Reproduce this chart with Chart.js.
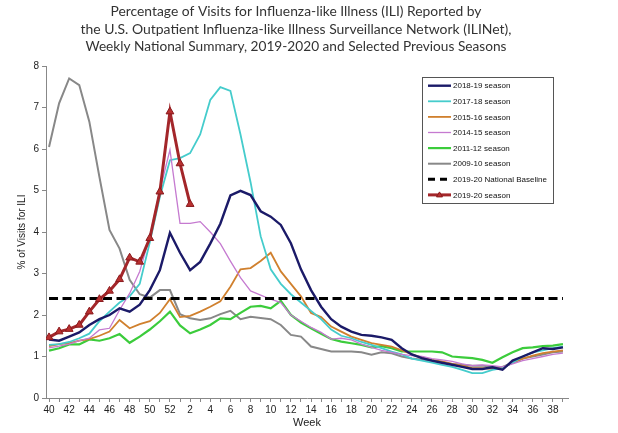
<!DOCTYPE html>
<html>
<head>
<meta charset="utf-8">
<script src="https://cdn.jsdelivr.net/npm/chart.js@4.4.1/dist/chart.umd.min.js"></script>
<style>
html,body{margin:0;padding:0;background:#fff;}
#c{display:block;}
</style>
</head>
<body>
<canvas id="c" width="618" height="433"></canvas>
<script>
// Weeks of the flu season (week 40 through week 39)
const weeks = [40,41,42,43,44,45,46,47,48,49,50,51,52,1,2,3,4,5,6,7,8,9,10,11,12,13,14,15,16,17,18,19,20,21,22,23,24,25,26,27,28,29,30,31,32,33,34,35,36,37,38,39];

const season1819 = [1.41,1.38,1.48,1.58,1.76,1.9,2.0,2.16,2.08,2.25,2.6,3.08,3.98,3.5,3.08,3.28,3.72,4.2,4.88,4.99,4.89,4.5,4.37,4.17,3.73,3.1,2.6,2.2,1.9,1.72,1.6,1.52,1.5,1.46,1.4,1.2,1.05,0.96,0.9,0.85,0.8,0.75,0.7,0.7,0.74,0.68,0.9,1.0,1.1,1.2,1.18,1.22];
const season1718 = [1.28,1.3,1.35,1.44,1.55,1.85,2.08,2.3,2.45,2.75,3.75,4.85,5.73,5.78,5.9,6.35,7.18,7.49,7.4,6.35,5.2,3.9,3.1,2.75,2.5,2.3,2.1,1.9,1.65,1.5,1.44,1.35,1.28,1.2,1.12,1.05,0.95,0.9,0.85,0.8,0.75,0.68,0.6,0.6,0.68,0.72,0.85,1.0,1.1,1.15,1.2,1.24];
const season1516 = [1.25,1.3,1.32,1.38,1.42,1.5,1.6,1.88,1.68,1.78,1.85,2.05,2.38,1.95,1.98,2.08,2.2,2.33,2.68,3.1,3.13,3.3,3.5,3.05,2.75,2.45,2.05,1.95,1.72,1.6,1.48,1.4,1.32,1.28,1.24,1.15,1.05,0.98,0.92,0.88,0.82,0.78,0.72,0.72,0.7,0.72,0.85,0.95,1.02,1.08,1.12,1.15];
const season1415 = [1.21,1.25,1.3,1.38,1.44,1.64,1.68,2.12,2.52,3.05,3.9,5.0,5.98,4.21,4.21,4.25,4.0,3.72,3.3,2.9,2.58,2.48,2.38,2.3,2.0,1.85,1.7,1.58,1.42,1.44,1.4,1.3,1.22,1.15,1.1,1.05,1.02,1.0,0.95,0.92,0.88,0.82,0.78,0.8,0.78,0.75,0.82,0.9,0.95,1.0,1.05,1.08];
const season1112 = [1.14,1.2,1.29,1.29,1.41,1.38,1.44,1.54,1.33,1.48,1.65,1.85,2.08,1.75,1.56,1.65,1.76,1.92,1.9,2.05,2.2,2.22,2.16,2.34,2.0,1.82,1.68,1.55,1.42,1.36,1.32,1.28,1.22,1.25,1.2,1.12,1.12,1.12,1.12,1.1,1.0,0.98,0.96,0.92,0.85,0.98,1.1,1.2,1.22,1.25,1.26,1.3];
const season0910 = [6.05,7.1,7.7,7.54,6.66,5.33,4.05,3.6,2.85,2.5,2.42,2.6,2.6,2.02,1.92,1.88,1.92,2.02,2.1,1.9,1.96,1.93,1.9,1.76,1.52,1.48,1.24,1.18,1.12,1.12,1.12,1.1,1.04,1.1,1.08,1.0,0.95,0.92,0.9,0.85,0.82,0.8,0.78,0.78,0.75,0.75,0.85,0.95,1.0,1.05,1.1,1.12];
const season1920 = [1.46,1.60,1.66,1.76,2.08,2.38,2.58,2.86,3.38,3.28,3.85,4.97,6.90,5.65,4.67];
const nationalBaseline = 2.4;

const seriesLabels = ["2018-19 season","2017-18 season","2015-16 season","2014-15 season","2011-12 season","2009-10 season","2019-20 National Baseline","2019-20 season"];
const yTicks = [0,1,2,3,4,5,6,7,8];

const titleLines = [
  "Percentage of Visits for Influenza-like Illness (ILI) Reported by",
  "the U.S. Outpatient Influenza-like Illness Surveillance Network (ILINet),",
  "Weekly National Summary, 2019-2020 and Selected Previous Seasons"
];

const toXY = arr => arr.map((v,i)=>({x:i,y:v}));

const datasets = [
  {label:seriesLabels[7], data:toXY(season1920), borderColor:'#a3262a', backgroundColor:'#b3282c', borderWidth:3,
   pointStyle:'triangle', pointRadius:4.5, pointBorderColor:'#8a1a1e', pointBackgroundColor:'#b9302f', pointBorderWidth:1, order:0},
  {label:seriesLabels[6], data:toXY(weeks.map(()=>nationalBaseline)), borderColor:'#000', borderWidth:3, borderDash:[9,4.5], pointRadius:0, order:1},
  {label:seriesLabels[0], data:toXY(season1819), borderColor:'#1b1a68', borderWidth:2.4, pointRadius:0, order:2},
  {label:seriesLabels[3], data:toXY(season1415), borderColor:'#c57ad0', borderWidth:1.3, pointRadius:0, order:3},
  {label:seriesLabels[1], data:toXY(season1718), borderColor:'#45cccc', borderWidth:1.8, pointRadius:0, order:4},
  {label:seriesLabels[2], data:toXY(season1516), borderColor:'#d0802e', borderWidth:1.8, pointRadius:0, order:5},
  {label:seriesLabels[4], data:toXY(season1112), borderColor:'#3ccc3c', borderWidth:2.2, pointRadius:0, order:6},
  {label:seriesLabels[5], data:toXY(season0910), borderColor:'#888888', borderWidth:2, pointRadius:0, order:7}
];

const titlePlugin = {
  id:'titleLines',
  afterDraw(chart){
    const c = chart.ctx;
    c.save();
    c.fillStyle = '#333';
    c.font = '13.5px Lato';
    c.textAlign = 'center';
    c.textBaseline = 'middle';
    const ys = [12,29.5,47];
    titleLines.forEach((t,i)=>{
      const w = c.measureText(t).width;
      const target = [371,431,421][i];
      c.save();
      c.translate(296, ys[i]);
      c.scale(target/w,1);
      c.fillText(t,0,0);
      c.restore();
    });
    c.restore();
  }
};

const legendPlugin = {
  id:'boxLegend',
  afterDraw(chart){
    const c = chart.ctx;
    const x0=422, y0=77, w=131, h=126;
    c.save();
    c.fillStyle='#fff';
    c.fillRect(x0,y0,w,h);
    c.strokeStyle='#555';
    c.lineWidth=1;
    c.strokeRect(x0+0.5,y0+0.5,w,h);
    c.font='8px "Liberation Sans"';
    c.textBaseline='middle';
    c.textAlign='left';
    seriesLabels.forEach((lab,i)=>{
      const ds = chart.data.datasets.find(d=>d.label===lab);
      const y = 85.7 + i*15.6;
      c.save();
      c.strokeStyle = ds.borderColor;
      c.lineWidth = ds.borderWidth;
      c.setLineDash(ds.borderDash ? [7,5] : []);
      c.beginPath(); c.moveTo(428,y); c.lineTo(451,y); c.stroke();
      c.restore();
      if (ds.pointStyle==='triangle'){
        c.save();
        c.fillStyle=ds.pointBackgroundColor; c.strokeStyle=ds.pointBorderColor; c.lineWidth=1;
        c.beginPath(); c.moveTo(439.5,y-3); c.lineTo(442.5,y+2); c.lineTo(436.5,y+2); c.closePath(); c.fill(); c.stroke();
        c.restore();
      }
      c.fillStyle='#111';
      c.fillText(lab, 453, y+0.5);
    });
    c.restore();
  }
};

new Chart(document.getElementById('c'), {
  type:'line',
  data:{datasets},
  options:{
    responsive:false,
    animation:false,
    devicePixelRatio:1,
    layout:{padding:{left:0,right:50,top:66,bottom:0}},
    elements:{line:{tension:0}},
    scales:{
      x:{
        type:'linear', min:-0.3, max:51.5,
        afterFit(s){ s.height = 35; },
        border:{display:true,color:'#888',width:1},
        grid:{display:true,drawOnChartArea:false,drawTicks:true,tickLength:4,color:'#888'},
        ticks:{stepSize:1,autoSkip:false,includeBounds:false,maxRotation:0,padding:2,color:'#222',
          font:{family:'"Liberation Sans"',size:10},
          callback:(v)=> (Number.isInteger(v) && v%2===0 && weeks[v]!==undefined) ? String(weeks[v]) : ''},
        title:{display:true,text:'Week',color:'#222',font:{family:'"Liberation Sans"',size:11},padding:{top:0,bottom:3}}
      },
      y:{
        min:0, max:8,
        afterFit(s){ s.width = 46; },
        afterBuildTicks(s){ s.ticks = yTicks.map(v=>({value:v})); },
        border:{display:true,color:'#888',width:1},
        grid:{display:true,drawOnChartArea:false,drawTicks:true,tickLength:4,color:'#888'},
        ticks:{padding:3,color:'#222',font:{family:'"Liberation Sans"',size:10}},
        title:{display:true,text:'% of Visits for ILI',color:'#222',font:{family:'"Liberation Sans"',size:10},padding:{top:16,bottom:0}}
      }
    },
    plugins:{legend:{display:false},title:{display:false},tooltip:{enabled:false}}
  },
  plugins:[titlePlugin, legendPlugin]
});
</script>
</body>
</html>
